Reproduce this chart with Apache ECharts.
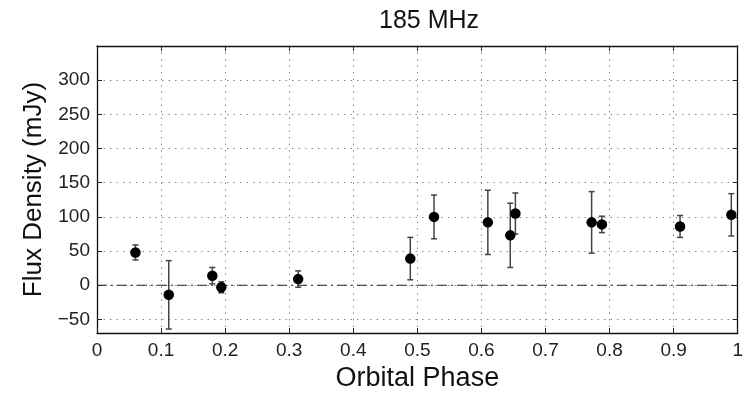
<!DOCTYPE html>
<html lang="en">
<head>
  <meta charset="UTF-8">
  <title>185 MHz</title>
  <script src="https://cdn.jsdelivr.net/npm/echarts@6.0.0/dist/echarts.min.js"></script>
  <style>
    html, body { margin: 0; padding: 0; background: #fff; }
  </style>
</head>
<body>
<div id="chart" style="width: 746px; height: 397px;"></div>

<script>
  // data
  var phase = [0.060, 0.112, 0.180, 0.194, 0.314, 0.489, 0.526, 0.610, 0.645, 0.653, 0.772, 0.788, 0.910, 0.990];
  var flux  = [48, -14, 14, -3, 9, 39, 100, 92, 73, 105, 92, 89, 86, 103];
  var err   = [11, 50, 12, 8, 12, 31, 32, 47, 47, 30, 45, 12, 16, 31];
  var yTicks = [-50, 0, 50, 100, 150, 200, 250, 300];

  var points = phase.map(function (p, i) { return [p, flux[i]]; });
  var bars = phase.map(function (p, i) { return [p, flux[i] - err[i], flux[i] + err[i]]; });

  var font = 'Liberation Sans, Arial, sans-serif';
  var dotted = { color: '#888', width: 1, type: [1.5, 5] };
  var frame = { show: true, onZero: false, lineStyle: { color: '#111', width: 1.3 } };
  var tick = { inside: true, length: 5, lineStyle: { color: '#222' } };

  var chart = echarts.init(document.getElementById('chart'));

  var option = {
    animation: false,
    backgroundColor: '#fff',
    title: {
      text: '185 MHz',
      left: 424,
      top: 4,
      textAlign: 'center',
      textStyle: { fontFamily: font, fontSize: 25, fontWeight: 'normal', color: '#111' }
    },
    grid: { left: 97, top: 46, right: -2, bottom: 61 },
    xAxis: [{
      type: 'value',
      min: 0, max: 1, interval: 0.1,
      name: 'Orbital Phase',
      nameLocation: 'middle',
      nameGap: 31,
      nameTextStyle: { fontFamily: font, fontSize: 27, color: '#111' },
      axisLine: frame,
      axisTick: tick,
      axisLabel: { fontFamily: font, fontSize: 19, color: '#222', margin: 8 },
      splitLine: { show: true, lineStyle: dotted }
    }, {
      type: 'value',
      position: 'top',
      min: 0, max: 1, interval: 0.1,
      axisLine: frame,
      axisTick: tick,
      axisLabel: { show: false },
      splitLine: { show: false }
    }],
    yAxis: [{
      type: 'value',
      min: -70, max: 350,
      name: 'Flux Density (mJy)',
      nameLocation: 'middle',
      nameGap: 50,
      nameTextStyle: { fontFamily: font, fontSize: 26, color: '#111' },
      axisLine: frame,
      axisTick: { inside: true, length: 5, customValues: yTicks, lineStyle: { color: '#222' } },
      axisLabel: {
        fontFamily: font, fontSize: 19, color: '#222', margin: 7, customValues: yTicks,
        formatter: function (v) { return v < 0 ? '\u2212' + Math.abs(v) : String(v); }
      },
      splitLine: { show: true, lineStyle: dotted }
    }, {
      type: 'value',
      position: 'right',
      min: -70, max: 350,
      axisLine: frame,
      axisTick: { inside: true, length: 5, customValues: yTicks, lineStyle: { color: '#222' } },
      axisLabel: { show: false },
      splitLine: { show: false }
    }],
    series: [{
      // zero reference line, dash-dot
      type: 'line',
      data: [[0, 0], [1, 0]],
      symbol: 'none',
      silent: true,
      lineStyle: { color: '#222', width: 1.2, type: [10, 4, 2, 4] },
      z: 1
    }, {
      type: 'custom',
      data: bars,
      renderItem: function (params, api) {
        var x = api.value(0);
        var lo = api.coord([x, api.value(1)]);
        var hi = api.coord([x, api.value(2)]);
        var w = 3;
        var st = { stroke: '#444', lineWidth: 1.5 };
        return {
          type: 'group',
          children: [
            { type: 'line', shape: { x1: lo[0], y1: lo[1], x2: hi[0], y2: hi[1] }, style: st },
            { type: 'line', shape: { x1: lo[0] - w, y1: lo[1], x2: lo[0] + w, y2: lo[1] }, style: st },
            { type: 'line', shape: { x1: hi[0] - w, y1: hi[1], x2: hi[0] + w, y2: hi[1] }, style: st }
          ]
        };
      },
      z: 2
    }, {
      type: 'scatter',
      data: points,
      symbol: 'circle',
      symbolSize: 10.5,
      itemStyle: { color: '#000', opacity: 1 },
      z: 3
    }]
  };

  chart.setOption(option);
</script>
</body>
</html>
